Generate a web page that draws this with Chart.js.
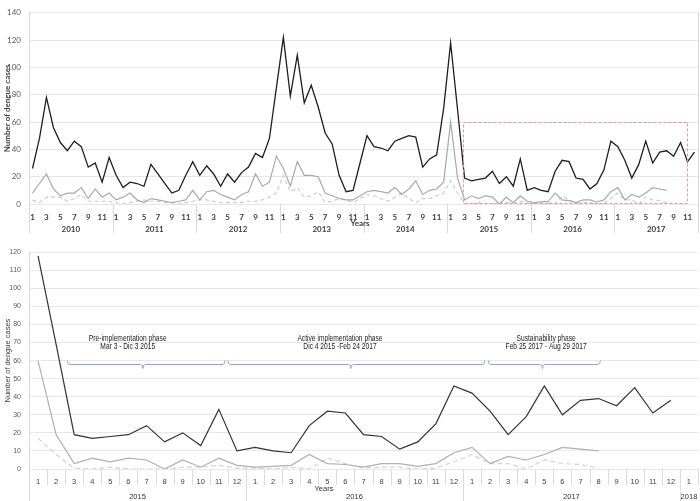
<!DOCTYPE html>
<html>
<head>
<meta charset="utf-8">
<script src="https://cdn.jsdelivr.net/npm/chart.js@4.4.1/dist/chart.umd.min.js"></script>
<style>
  html, body { margin: 0; padding: 0; background: #fff; }
  canvas { display: block; }
</style>
</head>
<body>
<canvas id="topChart" width="700" height="240"></canvas>
<canvas id="bottomChart" width="700" height="261"></canvas>
<script>
// years on the two x axes
const topYears = ['2010', '2011', '2012', '2013', '2014', '2015', '2016', '2017'];
const bottomYears = ['2015', '2016', '2017', '2018'];
const bottomYearMonths = [12, 12, 12, 1];
const monthNames = ['1', '2', '3', '4', '5', '6', '7', '8', '9', '10', '11', '12'];

// monthly dengue cases 2010-2017
const seriesDark = [
  26, 48, 78, 56, 45, 39, 46, 42, 27, 30, 16, 34,
  21, 12, 16, 15, 13, 29, 22, 15, 8, 10, 21, 31,
  21, 28, 22, 13, 22, 16, 23, 27, 37, 34, 48, 85,
  122, 79, 109, 74, 87, 71, 52, 44, 21, 9, 10, 30,
  50, 42, 41, 39, 46, 48, 50, 49, 27, 33, 36, 70,
  118, 69, 19, 17, 18, 19, 24, 15, 20, 13, 33, 10,
  12, 10, 9, 24, 32, 31, 19, 18, 11, 15, 25, 46,
  42, 32, 19, 29, 46, 30, 38, 39, 35, 45, 31, 38
];
const seriesGrey = [
  8, 15, 22, 11, 6, 8, 8, 12, 4, 11, 5, 8,
  3, 5, 8, 3, 1, 4, 3, 2, 1, 2, 3, 10,
  3, 9, 10, 7, 5, 3, 7, 9, 22, 13, 16, 35,
  26, 13, 31, 21, 21, 20, 8, 6, 4, 3, 3, 6,
  9, 10, 9, 8, 12, 7, 11, 17, 7, 10, 11, 16,
  60, 19, 3, 6, 4, 6, 5, 0, 5, 1, 6, 2,
  1, 1.5, 2, 8, 3, 2.5, 1, 3, 3, 1.5, 3, 9,
  12, 3, 7, 5, 8, 12, 11, 10, null, null, null, null
];
const seriesDashed = [
  3, 1, 5, 5, 5, 2, 4, 7, 2, 2, 2, 2,
  1, 0, 1, 2, 3, 2, 2, 1, 1, 0, 1, 2,
  3, 3, 2, 1, 1, 1, 1, 2, 2, 3, 5, 8,
  21, 9, 12, 5, 6, 9, 1, 2, 4, 3, 1, 4,
  7, 6, 4, 2, 5, 8, 4, 1, 4, 4, 6, 8,
  17, 8, 0.5, 0, 1, 0, 0, 0, 1, 1, 2, 0.5,
  0.5, 0, 1, 0, 6, 3, 0.5, 1, 1, 0, 0.5, 4,
  8, 3, 3, 0, 5, 3, 2.5, 0.5, null, null, null, null
];

// zoom window (2015-2017) marked on the top chart, in month index / cases
const zoomBox = { from: 61.8, to: 93.9, low: 0, high: 60 };

// phases on the bottom chart (month index from Jan 2015)
const phaseNames = ['Pre-implementation phase', 'Active implementation phase', 'Sustainability phase'];
const phaseDates = ['Mar 3 - Dic 3 2015', 'Dic 4 2015 -Feb 24 2017', 'Feb 25 2017 - Aug 29 2017'];
const phaseStart = [1.63, 10.5, 24.9];
const phaseEnd = [10.33, 24.7, 31.1];
const phaseTip = [5.8, 17.3, 27.9];
const phaseTextAt = [4.96, 16.7, 28.1];
const braceLevel = 58;

// labels
const topLabels = [];
topYears.forEach(() => monthNames.forEach(m => topLabels.push(m)));
const bottomLabels = [];
bottomYearMonths.forEach(n => { for (let m = 0; m < n; m++) bottomLabels.push(monthNames[m]); });
const bottomStart = 60;

// year row under the month labels, with separators
const groupAxis = {
  id: 'groupAxis',
  afterDraw(chart, args, o) {
    const { ctx, chartArea: a, scales: { x } } = chart;
    const half = (x.getPixelForValue(1) - x.getPixelForValue(0)) / 2;
    ctx.save();
    ctx.strokeStyle = o.lineColor;
    ctx.lineWidth = 1;
    if (o.monthTick) {
      for (let i = 0; i <= x.ticks.length; i++) {
        const px = Math.round(x.getPixelForValue(i) - half) + 0.5;
        ctx.beginPath();
        ctx.moveTo(px, a.bottom);
        ctx.lineTo(px, a.bottom + o.monthTick);
        ctx.stroke();
      }
    }
    ctx.font = o.font;
    ctx.fillStyle = o.color;
    ctx.textAlign = 'center';
    ctx.textBaseline = 'middle';
    let start = 0;
    o.groups.forEach((g, k) => {
      const n = o.counts[k];
      const left = x.getPixelForValue(start) - half;
      const right = x.getPixelForValue(start + n - 1) + half;
      const px = Math.round(left) + 0.5;
      ctx.beginPath();
      ctx.moveTo(px, a.bottom);
      ctx.lineTo(px, o.lineEnd);
      ctx.stroke();
      ctx.fillText(g, (left + right) / 2, o.labelY);
      start += n;
    });
    if (o.rightLine) {
      const px = Math.round(a.right) + 0.5;
      ctx.beginPath();
      ctx.moveTo(px, a.top);
      ctx.lineTo(px, o.lineEnd);
      ctx.stroke();
    }
    ctx.font = o.titleFont;
    ctx.fillText('Years', o.titleX, o.titleY);
    ctx.restore();
  }
};

const zoomFrame = {
  id: 'zoomFrame',
  afterDatasetsDraw(chart) {
    const { ctx, scales: { x, y } } = chart;
    const x1 = x.getPixelForValue(zoomBox.from), x2 = x.getPixelForValue(zoomBox.to);
    const y1 = y.getPixelForValue(zoomBox.high), y2 = y.getPixelForValue(zoomBox.low);
    ctx.save();
    ctx.strokeStyle = '#e59a9a';
    ctx.lineWidth = 1;
    ctx.setLineDash([3, 2]);
    ctx.strokeRect(Math.round(x1) + 0.5, Math.round(y1) + 0.5, Math.round(x2 - x1), Math.round(y2 - y1) - 1);
    ctx.restore();
  }
};

function drawBrace(ctx, x1, x2, xc, yb, h) {
  const r = 2.5;
  ctx.beginPath();
  ctx.moveTo(x1, yb - h);
  ctx.quadraticCurveTo(x1, yb, x1 + r, yb);
  ctx.lineTo(xc - r, yb);
  ctx.quadraticCurveTo(xc, yb, xc, yb + h);
  ctx.quadraticCurveTo(xc, yb, xc + r, yb);
  ctx.lineTo(x2 - r, yb);
  ctx.quadraticCurveTo(x2, yb, x2, yb - h);
  ctx.stroke();
}

// narrow text, squeezed like the original's condensed font
function narrowText(ctx, text, x, y) {
  ctx.save();
  ctx.translate(x, y);
  ctx.scale(0.74, 1);
  ctx.fillText(text, 0, 0);
  ctx.restore();
}

const phaseBraces = {
  id: 'phaseBraces',
  afterDatasetsDraw(chart) {
    const { ctx, scales: { x, y } } = chart;
    const yb = Math.round(y.getPixelForValue(braceLevel)) + 0.5;
    ctx.save();
    ctx.strokeStyle = '#8ea6d2';
    ctx.lineWidth = 1;
    ctx.fillStyle = '#222';
    ctx.font = "9px 'Liberation Sans', sans-serif";
    ctx.textAlign = 'center';
    ctx.textBaseline = 'middle';
    phaseNames.forEach((name, k) => {
      drawBrace(ctx, x.getPixelForValue(phaseStart[k]), x.getPixelForValue(phaseEnd[k]),
        x.getPixelForValue(phaseTip[k]), yb, 4);
      const tx = x.getPixelForValue(phaseTextAt[k]);
      narrowText(ctx, name, tx, yb - 26);
      narrowText(ctx, phaseDates[k], tx, yb - 18);
    });
    ctx.restore();
  }
};

function lineSet(data, color, width, dash) {
  return {
    data: data,
    borderColor: color,
    borderWidth: width,
    borderDash: dash || [],
    pointRadius: 0,
    tension: 0,
    fill: false
  };
}

// top chart: 2010-2017
new Chart(document.getElementById('topChart'), {
  type: 'line',
  data: {
    labels: topLabels,
    datasets: [
      lineSet(seriesDark, '#1e1e1e', 1.3),
      lineSet(seriesGrey, '#a9a9a9', 1.2),
      lineSet(seriesDashed, '#cccccc', 1.2, [4, 3])
    ]
  },
  options: {
    responsive: false,
    animation: false,
    layout: { padding: { top: 5, right: 2, left: 0, bottom: 0 } },
    plugins: {
      legend: { display: false },
      tooltip: { enabled: false },
      groupAxis: {
        groups: topYears, counts: topYears.map(() => 12),
        font: "bold 8px Lato, 'Open Sans', sans-serif", color: '#404040',
        titleFont: "bold 8px Lato, 'Open Sans', sans-serif",
        lineColor: '#d9d9d9', labelY: 229, lineEnd: 233, rightLine: true,
        titleX: 360, titleY: 223
      }
    },
    scales: {
      x: {
        offset: true,
        grid: { display: false },
        border: { display: false },
        ticks: {
          autoSkip: false, maxRotation: 0, padding: 1,
          color: '#404040', font: { family: 'Lato', size: 8, weight: 'bold' },
          callback(val) {
            const m = Number(this.getLabelForValue(val));
            return m % 2 === 1 ? String(m) : '';
          }
        },
        afterFit(s) { s.height = 36; }
      },
      y: {
        min: 0, max: 140,
        ticks: { stepSize: 20, padding: 8, color: '#595959', font: { family: 'Lato', size: 8 } },
        grid: { color: '#e6e6e6', drawTicks: false },
        border: { display: true, color: '#d9d9d9' },
        title: {
          display: true, text: 'Number of dengue cases', color: '#404040',
          font: { family: 'Lato', size: 8, weight: 'bold' }, padding: { top: 3, bottom: 0 }
        },
        afterFit(s) { s.width = 29; }
      }
    }
  },
  plugins: [groupAxis, zoomFrame]
});

// bottom chart: Jan 2015 - Jan 2018
new Chart(document.getElementById('bottomChart'), {
  type: 'line',
  data: {
    labels: bottomLabels,
    datasets: [
      lineSet(seriesDark.slice(bottomStart), '#333333', 1.2),
      lineSet(seriesGrey.slice(bottomStart), '#b0b0b0', 1.2),
      lineSet(seriesDashed.slice(bottomStart), '#d4d4d4', 1.2, [5, 3])
    ]
  },
  options: {
    responsive: false,
    animation: false,
    layout: { padding: { top: 12, right: 2, left: 0, bottom: 0 } },
    plugins: {
      legend: { display: false },
      tooltip: { enabled: false },
      groupAxis: {
        groups: bottomYears, counts: bottomYearMonths, monthTick: 16,
        font: "7.5px 'Liberation Sans', sans-serif", color: '#333',
        titleFont: "7.5px 'Liberation Sans', sans-serif",
        lineColor: '#dcdcdc', labelY: 257, lineEnd: 261, rightLine: false,
        titleX: 324, titleY: 249
      }
    },
    scales: {
      x: {
        offset: true,
        grid: { display: false },
        border: { display: false },
        ticks: {
          autoSkip: false, maxRotation: 0, padding: 0,
          color: '#404040', font: { family: 'Liberation Sans', size: 7.5 }
        },
        afterFit(s) { s.height = 32; }
      },
      y: {
        min: 0, max: 120,
        ticks: { stepSize: 10, padding: 8, color: '#595959', font: { family: 'Liberation Sans', size: 7 } },
        grid: { color: '#e8e8e8', drawTicks: false },
        border: { display: true, color: '#d9d9d9' },
        title: {
          display: true, text: 'Number of dengue cases', color: '#404040',
          font: { family: 'Liberation Sans', size: 7.5 }, padding: { top: 3, bottom: 0 }
        },
        afterFit(s) { s.width = 29; }
      }
    }
  },
  plugins: [groupAxis, phaseBraces]
});
</script>
</body>
</html>
